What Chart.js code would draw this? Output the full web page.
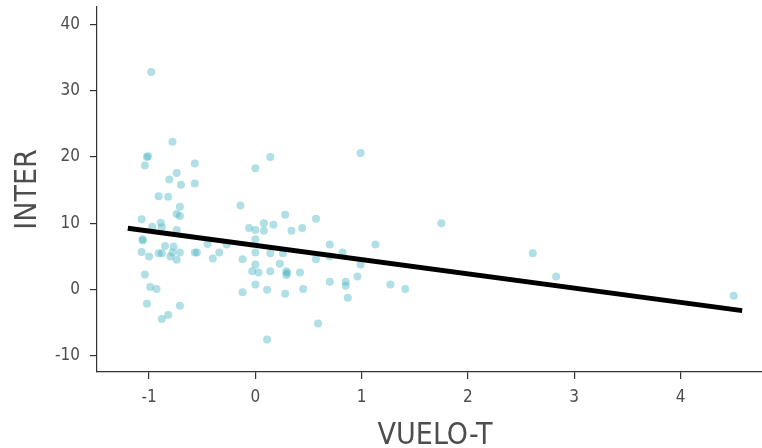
<!DOCTYPE html>
<html>
<head>
<meta charset="utf-8">
<script src="https://cdn.jsdelivr.net/npm/chart.js@4/dist/chart.umd.min.js"></script>
<style>
  html, body { margin: 0; padding: 0; background: #fff; overflow: hidden; }
  #wrap { width: 762px; height: 448px; overflow: hidden; }
</style>
</head>
<body>
<div id="wrap"><canvas id="chart" width="777" height="448"></canvas></div>
<script>
// data
const vueloT = [-0.98, -0.78, -1.02, -1.01, -1.04, 0.14, 0.0, -0.57, -0.74, -0.81,
  -0.70, -0.57, -0.91, -0.82, -0.71, -0.74, -0.71, -0.14, -1.07, -0.89,
  -0.97, -0.88, -0.74, -1.06, -1.06, -0.85, -0.77, -1.07, -1.00, -0.91,
  -0.88, -0.80, -0.78, -0.74, -0.71, -0.57, -0.55, -0.45, -0.40, -0.34,
  -0.27, -1.04, -0.99, -0.93, -1.02, -0.71, -0.88, -0.82, -0.12, -0.12,
  -0.06, 0.0, 0.08, 0.08, 0.17, 0.0, 0.0, 0.14, 0.28, 0.34,
  0.44, 0.57, 0.26, 0.0, -0.03, 0.03, 0.14, 0.23, 0.29, 0.30,
  0.29, 0.42, 0.57, 0.0, 0.11, 0.28, 0.45, 0.59, 0.11, 0.70,
  0.82, 0.70, 0.85, 0.85, 0.87, 0.70, 0.99, 1.75, 1.13, 0.99,
  0.96, 1.27, 1.41, 2.61, 2.83, 4.50];
const inter = [32.8, 22.3, 20.0, 20.1, 18.7, 20.0, 18.3, 19.0, 17.6, 16.6,
  15.8, 16.0, 14.1, 14.0, 12.5, 11.4, 11.1, 12.7, 10.6, 10.1,
  9.5, 9.4, 9.0, 7.6, 7.4, 6.6, 6.5, 5.7, 5.0, 5.5,
  5.5, 5.0, 5.6, 4.5, 5.6, 5.6, 5.6, 6.9, 4.7, 5.6,
  6.8, 2.3, 0.4, 0.1, -2.1, -2.4, -4.4, -3.8, 4.6, -0.4,
  9.3, 9.0, 10.0, 8.9, 9.8, 7.6, 5.6, 5.5, 11.3, 8.9,
  9.3, 10.7, 5.5, 3.8, 2.8, 2.6, 2.8, 3.9, 2.8, 2.5,
  2.2, 2.6, 4.6, 0.8, 0.0, -0.6, 0.1, -5.1, -7.5, 6.8,
  5.6, 1.2, 1.2, 0.6, -1.2, 5.0, 20.6, 10.0, 6.8, 3.8,
  2.0, 0.8, 0.1, 5.5, 2.0, -0.9];

// fitted line ends, as seen in the picture
const fitX = [-1.2, 4.58];
const fitY = [9.25, -3.15];

const xTicks = [-1, 0, 1, 2, 3, 4];
const yTicks = [-10, 0, 10, 20, 30, 40];

const points = vueloT.map((v, i) => ({ x: v, y: inter[i] }));
const fitLine = fitX.map((v, i) => ({ x: v, y: fitY[i] }));

const fontFamily = '"Liberation Sans Narrow", "Arial Narrow", "DejaVu Sans Condensed", sans-serif';
const grey = '#4d4d4d';

// no extra room for tick labels, the plot box is fixed
function noPad(scale) {
  scale.paddingTop = 0;
  scale.paddingBottom = 0;
  scale.paddingLeft = 0;
  scale.paddingRight = 0;
}

new Chart(document.getElementById('chart'), {
  type: 'scatter',
  data: {
    datasets: [
      {
        type: 'line',
        data: fitLine,
        borderColor: '#000',
        borderWidth: 5,
        pointRadius: 0,
        fill: false,
        order: 0
      },
      {
        data: points,
        backgroundColor: 'rgba(80, 185, 198, 0.45)',
        borderWidth: 0,
        pointRadius: 4,
        order: 1
      }
    ]
  },
  options: {
    responsive: false,
    animation: false,
    layout: { padding: { top: 7, right: 0, bottom: 0, left: 0 } },
    plugins: { legend: { display: false }, tooltip: { enabled: false } },
    scales: {
      x: {
        type: 'linear',
        min: -1.49,
        max: 4.87,
        afterBuildTicks: (scale) => { scale.ticks = xTicks.map(v => ({ value: v })); },
        afterFit: (scale) => { scale.height = 76; noPad(scale); },
        grid: { drawOnChartArea: false, drawTicks: true, tickLength: 7, color: '#333', lineWidth: 1.2 },
        border: { display: true, color: '#333', width: 1.2 },
        ticks: { color: grey, padding: 8, maxRotation: 0, font: { family: fontFamily, size: 17 } },
        title: {
          display: true,
          text: 'VUELO-T',
          color: grey,
          padding: { top: 0, bottom: -3 },
          font: { family: fontFamily, size: 30, lineHeight: 1 }
        }
      },
      y: {
        type: 'linear',
        min: -12.4,
        max: 42.6,
        afterBuildTicks: (scale) => { scale.ticks = yTicks.map(v => ({ value: v })); },
        afterFit: (scale) => { scale.width = 97; noPad(scale); },
        grid: { drawOnChartArea: false, drawTicks: true, tickLength: 7, color: '#333', lineWidth: 1.2 },
        border: { display: true, color: '#333', width: 1.2 },
        ticks: { color: grey, padding: 10, font: { family: fontFamily, size: 17 } },
        title: {
          display: true,
          text: 'INTER',
          color: grey,
          padding: { top: 13, bottom: 0 },
          font: { family: fontFamily, size: 30, lineHeight: 1 }
        }
      }
    }
  }
});
</script>
</body>
</html>
